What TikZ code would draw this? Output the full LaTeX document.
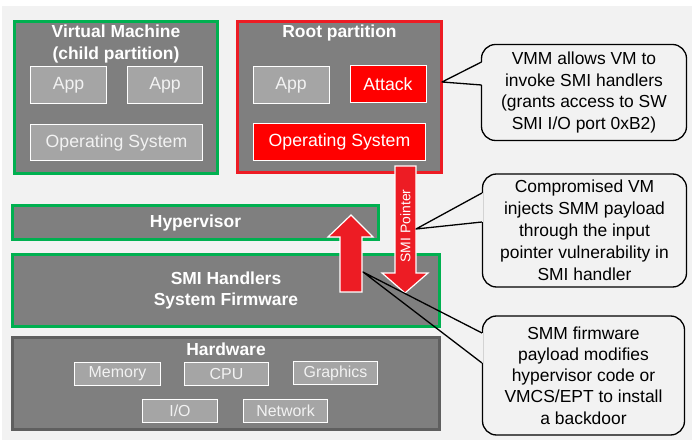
\documentclass[tikz,border=0pt]{standalone}
\usepackage{fontspec}
\setmainfont{Liberation Sans}
\usetikzlibrary{calc}

\definecolor{bggray}{HTML}{F2F2F2}
\definecolor{boxgray}{HTML}{7F7F7F}
\definecolor{unitgray}{HTML}{A5A5A5}
\definecolor{vmgreen}{HTML}{00B050}
\definecolor{rootred}{HTML}{ED1C24}
\definecolor{attackred}{HTML}{FF0000}
\definecolor{hwedge}{HTML}{5F5F5F}

\begin{document}
\begin{tikzpicture}[x=1bp, y=-1bp,
  layer/.style={draw, fill=boxgray, line width=3bp, inner sep=0pt},
  unit/.style={draw=white, fill=unitgray, line width=0.9bp, inner sep=0pt,
    text=bggray, font=\fontsize{17.75}{20}\selectfont},
  hwunit/.style={unit, font=\fontsize{16}{18}\selectfont},
  title/.style={text=white, align=center, inner sep=0pt,
    font=\bfseries\fontsize{17.5}{22}\selectfont},
  callout/.style={draw=black, fill=bggray, line width=1.3bp, rounded corners=14bp,
    align=center, inner sep=0pt, font=\fontsize{17.5}{22}\selectfont},
  bigarrow/.style={fill=rootred, draw=white, line width=1.2bp}]
					%%
\useasboundingbox (0,0) rectangle (692,441);
\fill[bggray] (2,6) rectangle (692,440);

%% partitions
\node[layer, draw=vmgreen, minimum width=203bp, minimum height=152bp] (vm) at (116,97.5) {};
\node[layer, draw=rootred, minimum width=204bp, minimum height=151bp] (root) at (339.5,97) {};
\node[title] (vmtitle) at (116,44) {Virtual Machine\\(child partition)};
\node[title] (roottitle) at (339.5,33) {Root partition};

\node[unit, minimum width=76bp, minimum height=37bp] (app1) at (68.5,85) {App};
\node[unit, minimum width=75bp, minimum height=37bp] (app2) at (165,85) {App};
\node[unit, minimum width=172bp, minimum height=36bp] (os1) at (116.5,142.5) {Operating System};
\node[unit, minimum width=76bp, minimum height=37bp] (app3) at (291,85) {App};
\node[unit, fill=attackred, text=white, minimum width=76bp, minimum height=37bp] (attack) at (388,84) {Attack};
\node[unit, fill=attackred, text=white, minimum width=172bp, minimum height=37bp] (os2) at (339.5,142) {Operating System};

%% lower layers
\node[layer, draw=vmgreen, minimum width=366bp, minimum height=34bp] (hyp) at (195.5,222.5) {};
\node[title] at (hyp.center) {Hypervisor};
\node[layer, draw=vmgreen, minimum width=427bp, minimum height=72bp] (smi) at (226,290.5) {};
\node[title, font=\bfseries\fontsize{17.5}{21}\selectfont] at (smi.center) {SMI Handlers\\System Firmware};
\node[layer, draw=hwedge, minimum width=427bp, minimum height=92bp] (hw) at (226,383.5) {};
\node[title] (hwtitle) at (226,349) {Hardware};

\node[hwunit, minimum width=86bp, minimum height=23bp] (mem) at (117.5,374) {Memory};
\node[hwunit, minimum width=84bp, minimum height=23bp] (cpu) at (226.5,374) {CPU};
\node[hwunit, minimum width=84bp, minimum height=23bp] (gfx) at (335.5,373) {Graphics};
\node[hwunit, minimum width=75bp, minimum height=23bp] (io) at (180,411) {I/O};
\node[hwunit, minimum width=84bp, minimum height=23bp] (net) at (285.5,411) {Network};

%% arrows
\draw[bigarrow] (395,166) -- (416,166) -- (416,273) -- (428,273) -- (405,293)
  -- (382,273) -- (395,273) -- cycle;
\node[rotate=90, text=white, inner sep=0pt, font=\fontsize{14}{16}\selectfont]
  (ptr) at (405.5,226) {SMI Pointer};
\draw[bigarrow] (340,292) -- (362,292) -- (362,237) -- (373,237) -- (351,215)
  -- (328,237) -- (340,237) -- cycle;

%% callouts
\node[callout, minimum width=205bp, minimum height=96bp] (c1) at (584,92.5)
  {VMM allows VM to\\invoke SMI handlers\\(grants access to SW\\SMI I/O port 0xB2)};
\node[callout, minimum width=204bp, minimum height=113bp] (c2) at (584.5,230.5)
  {Compromised VM\\injects SMM payload\\through the input\\pointer vulnerability in\\SMI handler};
\node[callout, minimum width=202bp, minimum height=119bp, font=\fontsize{17.5}{21.25}\selectfont] (c3) at (583.5,375.5)
  {SMM firmware\\payload modifies\\hypervisor code or\\VMCS/EPT to install\\a backdoor};

\coordinate (t1) at (442,82);
\coordinate (b11) at (481.5,62);
\coordinate (b12) at (481.5,85);
\coordinate (t2) at (416,229);
\coordinate (b21) at (482,193);
\coordinate (b22) at (482,222);
\coordinate (t3) at (363,272);
\coordinate (b31) at (482,333);
\coordinate (b32) at (482,363);

\foreach \i in {1, 2, 3}
\draw[bggray, line width=2.5bp] (b\i1) -- (b\i2);

\foreach \i in {1, 2, 3}
\draw[line width=1.3bp, line join=round] (b\i1) -- (t\i) -- (b\i2);
				\end{tikzpicture}
\end{document}
